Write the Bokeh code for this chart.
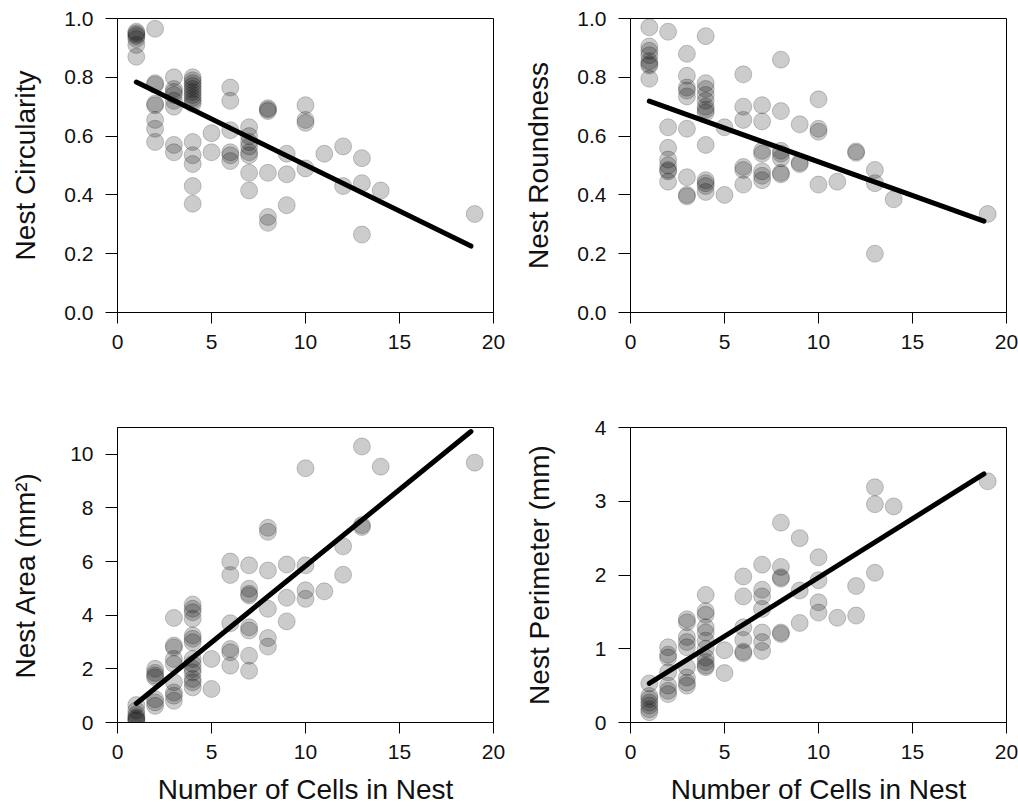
from bokeh.plotting import figure
from bokeh.layouts import column, row
from bokeh.models import Range1d, FixedTicker, PrintfTickFormatter, BasicTickFormatter
from bokeh.embed import file_html
from bokeh.resources import INLINE

# ---------------- data ----------------
x_ticks = [0, 5, 10, 15, 20]

circ_x = [1, 1, 1, 1, 1, 1, 1,
          2, 2, 2, 2, 2, 2, 2, 2,
          3, 3, 3, 3, 3, 3, 3, 3,
          4, 4, 4, 4, 4, 4, 4, 4, 4, 4, 4, 4, 4, 4, 4,
          5, 5,
          6, 6, 6, 6, 6, 6,
          7, 7, 7, 7, 7, 7, 7, 7,
          8, 8, 8, 8, 8, 8,
          9, 9, 9,
          10, 10, 10, 10,
          11,
          12, 12,
          13, 13, 13,
          14,
          19]
circ_y = [0.955, 0.95, 0.945, 0.94, 0.93, 0.91, 0.87,
          0.965, 0.78, 0.775, 0.71, 0.705, 0.655, 0.625, 0.58,
          0.80, 0.76, 0.75, 0.74, 0.72, 0.70, 0.57, 0.545,
          0.80, 0.79, 0.78, 0.77, 0.76, 0.75, 0.74, 0.73, 0.72, 0.71, 0.58, 0.535, 0.505, 0.43, 0.37,
          0.61, 0.545,
          0.765, 0.72, 0.62, 0.545, 0.535, 0.515,
          0.63, 0.60, 0.58, 0.565, 0.545, 0.535, 0.475, 0.415,
          0.695, 0.69, 0.685, 0.475, 0.325, 0.305,
          0.54, 0.47, 0.365,
          0.705, 0.655, 0.645, 0.49,
          0.54,
          0.565, 0.43,
          0.525, 0.44, 0.265,
          0.415,
          0.335]
circ_fit_x = [1, 18.8]
circ_fit_y = [0.784, 0.226]

round_x = [1, 1, 1, 1, 1, 1, 1, 1,
           2, 2, 2, 2, 2, 2, 2, 2,
           3, 3, 3, 3, 3, 3, 3, 3, 3,
           4, 4, 4, 4, 4, 4, 4, 4, 4, 4, 4, 4, 4,
           5, 5,
           6, 6, 6, 6, 6, 6,
           7, 7, 7, 7, 7, 7, 7,
           8, 8, 8, 8, 8, 8, 8,
           9, 9, 9,
           10, 10, 10, 10,
           11,
           12, 12,
           13, 13, 13,
           14,
           19]
round_y = [0.97, 0.905, 0.89, 0.875, 0.855, 0.845, 0.84, 0.795,
           0.955, 0.63, 0.56, 0.52, 0.50, 0.485, 0.48, 0.445,
           0.88, 0.805, 0.765, 0.755, 0.735, 0.625, 0.46, 0.40, 0.395,
           0.94, 0.78, 0.76, 0.74, 0.72, 0.70, 0.69, 0.68, 0.57, 0.45, 0.44, 0.43, 0.41,
           0.63, 0.40,
           0.81, 0.70, 0.655, 0.495, 0.485, 0.435,
           0.705, 0.65, 0.55, 0.54, 0.48, 0.465, 0.45,
           0.86, 0.685, 0.55, 0.54, 0.525, 0.475, 0.47,
           0.64, 0.51, 0.505,
           0.725, 0.625, 0.615, 0.435,
           0.445,
           0.548, 0.543,
           0.485, 0.44, 0.20,
           0.385,
           0.335]
round_fit_x = [1, 18.8]
round_fit_y = [0.719, 0.311]

area_x = [1, 1, 1, 1, 1, 1, 1,
          2, 2, 2, 2, 2, 2, 2,
          3, 3, 3, 3, 3, 3, 3, 3, 3,
          4, 4, 4, 4, 4, 4, 4, 4, 4, 4, 4, 4, 4, 4,
          5, 5,
          6, 6, 6, 6, 6, 6,
          7, 7, 7, 7, 7, 7, 7, 7,
          8, 8, 8, 8, 8, 8,
          9, 9, 9,
          10, 10, 10, 10,
          11,
          12, 12,
          13, 13, 13,
          14,
          19]
area_y = [0.65, 0.45, 0.30, 0.20, 0.15, 0.10, 0.05,
          2.00, 1.85, 1.75, 1.68, 0.87, 0.75, 0.62,
          3.90, 2.87, 2.80, 2.37, 2.18, 1.50, 1.12, 1.00, 0.81,
          4.40, 4.24, 4.11, 3.87, 3.24, 3.12, 2.99, 2.37, 2.18, 2.00, 1.87, 1.62, 1.50, 1.31,
          2.37, 1.25,
          6.00, 5.50, 3.70, 2.74, 2.62, 2.12,
          5.86, 4.99, 4.80, 4.74, 3.55, 3.43, 2.49, 1.93,
          7.26, 7.11, 5.67, 4.24, 3.15, 2.83,
          5.89, 4.65, 3.77,
          9.48, 5.86, 4.93, 4.61,
          4.89,
          6.57, 5.51,
          10.29, 7.36, 7.29,
          9.54,
          9.69]
area_fit_x = [1, 18.8]
area_fit_y = [0.71, 10.85]

perim_x = [1, 1, 1, 1, 1, 1, 1,
           2, 2, 2, 2, 2, 2, 2,
           3, 3, 3, 3, 3, 3, 3, 3, 3,
           4, 4, 4, 4, 4, 4, 4, 4, 4, 4, 4,
           5, 5,
           6, 6, 6, 6, 6, 6,
           7, 7, 7, 7, 7, 7, 7,
           8, 8, 8, 8, 8, 8,
           9, 9, 9,
           10, 10, 10, 10,
           11,
           12, 12,
           13, 13, 13,
           14,
           19]
perim_y = [0.53, 0.36, 0.32, 0.27, 0.23, 0.18, 0.14,
           1.02, 0.92, 0.88, 0.68, 0.50, 0.43, 0.385,
           1.40, 1.36, 1.16, 1.09, 1.02, 0.75, 0.61, 0.54, 0.50,
           1.73, 1.51, 1.46, 1.29, 1.22, 1.11, 1.00, 0.88, 0.82, 0.77, 0.75,
           0.98, 0.67,
           1.98, 1.71, 1.29, 1.12, 0.96, 0.94,
           2.14, 1.80, 1.71, 1.54, 1.22, 1.09, 0.97,
           2.71, 2.11, 1.97, 1.95, 1.22, 1.20,
           2.50, 1.79, 1.35,
           2.24, 1.93, 1.63, 1.49,
           1.42,
           1.85, 1.45,
           3.19, 2.96, 2.03,
           2.93,
           3.27]
perim_fit_x = [1, 18.8]
perim_fit_y = [0.53, 3.37]

FONT = "Liberation Sans"


def make_panel(xs, ys, fx, fy, ymax, yticks, yfmt, ylabel, ystandoff, xlabel,
               width, height, bl, br, bt, bb):
    p = figure(width=width, height=height, output_backend="svg",
               toolbar_location=None,
               x_range=Range1d(0, 20), y_range=Range1d(0, ymax),
               min_border_left=bl, min_border_right=br,
               min_border_top=bt, min_border_bottom=bb)
    p.scatter(xs, ys, size=17, fill_color="black", fill_alpha=0.2,
              line_color="black", line_alpha=0.2, line_width=1)
    p.line(fx, fy, line_color="black", line_width=5, line_cap="round")
    p.xaxis.ticker = FixedTicker(ticks=x_ticks)
    p.yaxis.ticker = FixedTicker(ticks=yticks)
    p.yaxis.formatter = yfmt
    p.xgrid.visible = False
    p.ygrid.visible = False
    p.outline_line_color = "black"
    p.outline_line_alpha = 1.0
    p.outline_line_width = 1
    p.background_fill_color = "white"
    p.border_fill_color = "white"
    for ax in p.axis:
        ax.minor_tick_line_color = None
        ax.major_tick_in = 0
        ax.axis_line_color = "black"
        ax.major_tick_line_color = "black"
        ax.major_label_text_font = FONT
        ax.major_label_text_font_size = "21px"
        ax.major_label_text_color = "#111111"
        ax.axis_label_text_font = FONT
        ax.axis_label_text_font_size = "28px"
        ax.axis_label_text_font_style = "normal"
        ax.axis_label_text_color = "#111111"
    p.xaxis.major_tick_out = 11
    p.yaxis.major_tick_out = 12
    p.xaxis.major_label_standoff = 11
    p.yaxis.major_label_standoff = 12
    p.yaxis.axis_label = ylabel
    p.yaxis.axis_label_standoff = ystandoff
    if xlabel:
        p.xaxis.axis_label = xlabel
        p.xaxis.axis_label_standoff = 12
    return p


p1 = make_panel(circ_x, circ_y, circ_fit_x, circ_fit_y, 1.0,
                [0, 0.2, 0.4, 0.6, 0.8, 1.0], PrintfTickFormatter(format="%.1f"),
                "Nest Circularity", 20, None,
                520, 400, 117, 27, 18, 88)
p2 = make_panel(round_x, round_y, round_fit_x, round_fit_y, 1.0,
                [0, 0.2, 0.4, 0.6, 0.8, 1.0], PrintfTickFormatter(format="%.1f"),
                "Nest Roundness", 20, None,
                498, 400, 109, 12, 18, 88)
p3 = make_panel(area_x, area_y, area_fit_x, area_fit_y, 11.0,
                [0, 2, 4, 6, 8, 10], BasicTickFormatter(), "Nest Area (mm²)", 26,
                "Number of Cells in Nest",
                520, 412, 117, 27, 27, 90)
p4 = make_panel(perim_x, perim_y, perim_fit_x, perim_fit_y, 4.0,
                [0, 1, 2, 3, 4], BasicTickFormatter(), "Nest Perimeter (mm)", 37,
                "Number of Cells in Nest",
                498, 412, 109, 12, 27, 90)

layout = column(row(p1, p2), row(p3, p4))
open("out.html", "w").write(file_html(layout, INLINE))
